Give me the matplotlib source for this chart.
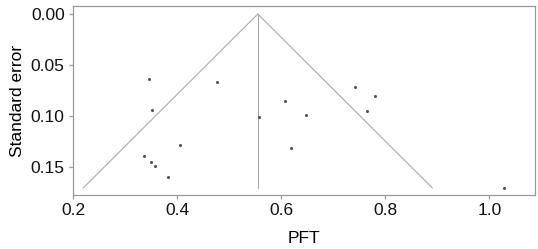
import matplotlib
matplotlib.use("Agg")
import matplotlib.pyplot as plt

# study estimates
pft = [0.346, 0.477, 0.352, 0.558, 0.405, 0.336, 0.349, 0.357, 0.383,
       0.607, 0.648, 0.618, 0.741, 0.780, 0.764, 1.028]
se = [0.0636, 0.0671, 0.0946, 0.1015, 0.129, 0.140, 0.1457, 0.149, 0.160,
      0.0852, 0.0995, 0.1313, 0.072, 0.0809, 0.0953, 0.171]

pooled = 0.555
se_max = 0.171

x_ticks = [0.2, 0.4, 0.6, 0.8, 1.0]
y_ticks = [0.00, 0.05, 0.10, 0.15]

LINE = "#aaaaaa"
SPINE = "#9a9a9a"

plt.rcParams["font.family"] = ["Liberation Sans", "DejaVu Sans"]

fig = plt.figure(figsize=(5.38, 2.49), dpi=100, facecolor="white")
ax = fig.add_axes([0.1357, 0.2169, 0.8581, 0.757])

ax.plot([pooled - 1.96 * se_max, pooled, pooled + 1.96 * se_max],
        [se_max, 0, se_max], color=LINE, linewidth=0.8)
ax.plot([pooled, pooled], [0, se_max], color=LINE, linewidth=0.8)
ax.scatter(pft, se, s=5, color="#555555", zorder=3, linewidths=0)

ax.set_xlim(0.2, 1.087)
ax.set_ylim(0.178, -0.0074)
ax.set_xticks(x_ticks)
ax.set_xticklabels([f"{v:.1f}" for v in x_ticks])
ax.set_yticks(y_ticks)
ax.set_yticklabels([f"{v:.2f}" for v in y_ticks])
ax.set_xlabel("PFT", fontsize=12.5, labelpad=9)
ax.set_ylabel("Standard error", fontsize=12.5, labelpad=4)

for spine in ax.spines.values():
    spine.set_color(SPINE)
    spine.set_linewidth(0.9)
ax.tick_params(colors=SPINE, labelcolor="#111111", labelsize=12.5,
               length=3, width=0.9, pad=3)

fig.savefig("out.png", dpi=100, facecolor="white")
